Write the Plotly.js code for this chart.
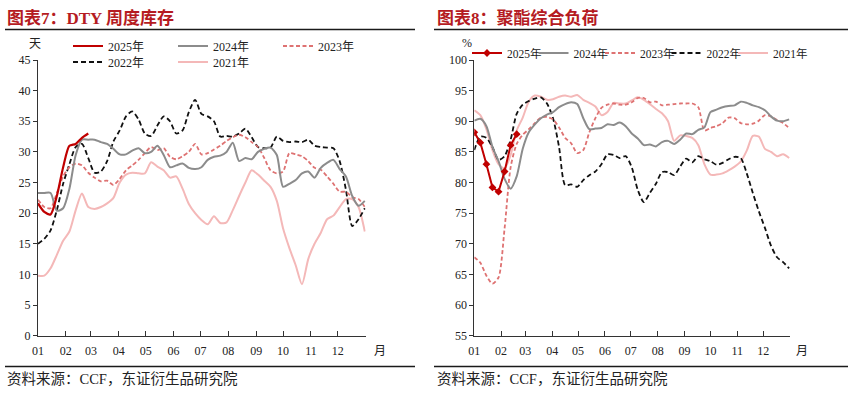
<!DOCTYPE html>
<html>
<head>
<meta charset="utf-8">
<script src="https://cdn.plot.ly/plotly-3.0.1.min.js"></script>
<style>
html,body{margin:0;padding:0;background:#fff;}
#chart{width:854px;height:396px;}
</style>
</head>
<body>
<div id="chart"></div>
<script>
// ---- shared x positions: day-of-year of each weekly observation ----
const weekDay = [0,7,14,21,28,35,42,49,56,63,70,77,84,91,98,105,112,119,126,133,140,147,154,161,168,175,182,189,196,203,210,217,224,231,238,245,252,259,266,273,280,287,294,301,308,315,322,329,336,343,350,357,364];
const monthStart = [0,31,59,90,120,151,181,212,243,273,304,334];
const monthLabels = ["01","02","03","04","05","06","07","08","09","10","11","12"];
const yearNames = ["2025年","2024年","2023年","2022年","2021年"];

// ---- 图表7: DTY 周度库存 (天) ----
const dty2025 = [21.6,20.2,19.8,22.8,27.5,31,31.3,32.3,33];
const dty2024 = [23.3,23.3,23.3,20.4,20.8,24,29.5,32,32,32,31.6,31.3,30.5,29.6,29.6,30.2,30.6,29.8,30,31,29.5,27.5,27.8,28.1,27.4,27.2,27.5,28.7,29.2,29.4,30,31.5,28.5,29,28.8,30,30.5,30.7,29.5,24.3,24.8,25.4,26.5,26.8,25.8,27.4,28.2,28.7,27.2,26,22.8,21.2,22];
const dty2023 = [22.2,21,20.8,23.3,26,27.5,28.1,27.8,26.6,25.8,25.2,25.3,24.6,25.6,27,27.8,28.7,29.8,30.8,30.3,30.6,29.2,28.8,29.3,30,31.3,29.6,29.8,30.4,31,31.8,32.4,32.8,32.4,31.6,30.8,29,27,26.5,26.8,29.8,29.6,29.3,28.5,27.4,27.1,26,24.8,23.5,23.5,22.6,22.3,21];
const dty2022 = [15,15.8,17.2,20.5,24.8,28,30.8,31.3,29,26.6,26.8,28.5,31.7,33.5,35.8,36.6,35.3,33,32.6,34.3,35.8,35,33,33.5,36.5,38.5,36.2,35.8,35,32.5,32.6,32.5,33,33.8,32.4,30.8,30.6,30.7,32.5,31.8,31.6,31.7,31.6,32,31,30.8,30.7,30.6,28.5,23.8,17.9,19,20.8];
const dty2021 = [9.8,9.8,11,13.2,15.5,17,20.5,23.2,21,20.7,21,21.6,22.5,25,26.3,26.6,26.5,26.5,28.3,27.6,27,25.8,26,24,21.5,20,18.9,18.2,19.5,18.4,18.5,20.5,22.8,25,27,26.3,25.3,24.3,22,17.5,14.3,11.5,8.4,12.5,15,16.8,19,19.6,21,22.3,22.3,21,17];

// ---- 图表8: 聚酯综合负荷 (%) ----
const load2025 = [88.2,86.5,83,79.2,78.5,81.8,86.1,87.9];
const load2024 = [90.1,90.4,89.2,85.8,83.5,80.6,79,81,85.5,88.2,89.5,90.5,91.1,91.5,92.3,92.8,93.1,92.8,90.5,88.7,88.8,88.9,89.5,89.4,89.8,89.2,88,87.2,86.1,86.2,85.9,86.6,86.8,86.3,87,88,87.9,88.6,89,91.5,91.9,92.3,92.5,92.6,93.2,93,92.6,92.3,91.8,90.8,90.1,90,90.3];
const load2023 = [67.8,66.9,64.8,63.5,64.5,72.5,82.5,86.3,87.8,88.7,89.7,90.6,90.7,90.3,89,87.3,86.4,84.8,85.3,88.2,90.5,92.2,92.7,92.9,92.7,92.7,93.1,93.8,93.8,93.1,93.2,92.6,92.7,92.8,92.9,92.9,92.9,92.3,88.5,88.9,89.2,89.7,90.6,90.5,89.7,89.5,89.6,90.1,91,90.8,90.2,89.7,88.9];
const load2022 = [85.3,87.5,87.3,85.8,83.7,84.3,87,91.2,92.7,93.3,93.7,93.9,92.9,90.5,85.8,79.6,79.7,79.3,80.4,81.2,81.8,83,84.6,84.5,84,84.3,82.5,78.8,76.8,78.3,79.8,81.7,81.7,81.2,82.6,83.9,83.3,84.3,83.8,83.5,82.9,83.2,83.8,84.2,84,81.5,78.3,75.3,72.6,69.7,67.8,67,66];
const load2021 = [91.8,91,88.7,85.3,83,82.3,84.5,88.5,90.6,93.2,94.2,94,93.5,93.6,94,94.2,94,94.3,93.5,93,92.4,91,91.5,93,92.9,92.9,93.4,93.9,93.5,92.8,92,91.3,90,86.8,87.7,87.6,87.3,86.1,83,81.3,81.3,81.5,82,82.6,83.4,85.2,87.6,87.5,85.5,85,84.3,84.6,84];

// ---- styles ----
const C25 = '#C00000', C24 = '#8C8C8C', C23 = '#DE7272', C22 = '#111111', C21 = '#F4B8B8';
const FONT = '"Liberation Serif", "Times New Roman", "Noto Sans CJK SC", serif';
const CJK = '"Liberation Serif", "Noto Sans CJK SC", serif';

function tr(vals, name, color, opts) {
  const t = {
    type: 'scatter', mode: 'lines',
    x: weekDay.slice(0, vals.length), y: vals, name: name,
    line: {color: color, width: opts.width || 2, dash: opts.dash || 'solid', shape: opts.shape || 'spline', smoothing: 0.7},
    xaxis: opts.xaxis, yaxis: opts.yaxis, legend: opts.legend, legendrank: opts.rank,
    hoverinfo: 'skip'
  };
  if (opts.legendwidth) t.legendwidth = opts.legendwidth;
  if (opts.marker) { t.mode = 'lines+markers'; t.marker = opts.marker; }
  return t;
}

const data = [
  // left chart
  tr(dty2021, yearNames[4], C21, {xaxis:'x', yaxis:'y', legend:'legend2', rank:2, width:2, legendwidth:45}),
  tr(dty2022, yearNames[3], C22, {xaxis:'x', yaxis:'y', legend:'legend2', rank:1, width:1.8, dash:'5px,3px'}),
  tr(dty2023, yearNames[2], C23, {xaxis:'x', yaxis:'y', legend:'legend', rank:3, width:1.8, dash:'4px,2.5px'}),
  tr(dty2024, yearNames[1], C24, {xaxis:'x', yaxis:'y', legend:'legend', rank:2, width:2}),
  tr(dty2025, yearNames[0], C25, {xaxis:'x', yaxis:'y', legend:'legend', rank:1, width:2.2}),
  // right chart
  tr(load2021, yearNames[4], C21, {xaxis:'x2', yaxis:'y2', legend:'legend3', rank:5, width:2, legendwidth:45}),
  tr(load2022, yearNames[3], C22, {xaxis:'x2', yaxis:'y2', legend:'legend3', rank:4, width:1.8, dash:'5px,3px'}),
  tr(load2023, yearNames[2], C23, {xaxis:'x2', yaxis:'y2', legend:'legend3', rank:3, width:1.8, dash:'4px,2.5px'}),
  tr(load2024, yearNames[1], C24, {xaxis:'x2', yaxis:'y2', legend:'legend3', rank:2, width:2}),
  tr(load2025, yearNames[0], C25, {xaxis:'x2', yaxis:'y2', legend:'legend3', rank:1, width:2, shape:'linear',
      marker:{symbol:'diamond', size:6, color:C25}})
];

const W = 854, H = 396;
const px = v => v / W;
const py = v => 1 - v / H;

function xAxis(domain, anchor) {
  return {domain: domain, anchor: anchor, range: [0, 365], tickmode: 'array', tickvals: monthStart, ticktext: monthLabels,
    ticks: 'inside', ticklen: 5, tickcolor: '#333', showline: true, linecolor: '#333', linewidth: 1,
    ticklabelstandoff: 4,
    showgrid: false, zeroline: false, tickfont: {family: FONT, size: 12, color: '#222'}, fixedrange: true};
}
function yAxis(domain, anchor, range) {
  return {domain: domain, anchor: anchor, range: range, dtick: 5, tick0: 0,
    ticks: 'outside', ticklen: 4, tickcolor: '#333', showline: true, linecolor: '#333', linewidth: 1,
    showgrid: false, zeroline: false, tickfont: {family: FONT, size: 12, color: '#222'}, fixedrange: true};
}

const yDom = [py(335.7), py(60)];
function legendAt(x, yCenter, ew, size) {
  return {orientation: 'h', x: px(x), y: py(yCenter - 14.5), xanchor: 'left', yanchor: 'top',
    bgcolor: 'rgba(0,0,0,0)', borderwidth: 0, entrywidth: ew, entrywidthmode: 'pixels',
    font: {family: CJK, size: size || 12, color: '#222'}, itemclick: false, itemdoubleclick: false};
}

function ann(text, x, y, opts) {
  return Object.assign({text: text, x: px(x), y: py(y), xref: 'paper', yref: 'paper', showarrow: false,
    xanchor: 'left', yanchor: 'middle', font: {family: CJK, size: 12, color: '#222'}}, opts || {});
}
function rule(x0, x1, y) {
  return {type: 'line', xref: 'paper', yref: 'paper', x0: px(x0), x1: px(x1), y0: py(y), y1: py(y),
    line: {color: '#1a1a1a', width: 1.3}};
}

const TITLE_FONT = {family: CJK, size: 17, color: '#B51B22', weight: 'bold'};
const SRC_FONT = {family: CJK, size: 14.5, color: '#222'};

const layout = {
  width: W, height: H, margin: {l: 0, r: 0, t: 0, b: 0},
  paper_bgcolor: '#fff', plot_bgcolor: '#fff', showlegend: true,
  font: {family: FONT, size: 12, color: '#222'},
  xaxis: xAxis([px(38), px(365.7)], 'y'),
  yaxis: yAxis(yDom, 'x', [0, 45]),
  xaxis2: xAxis([px(474.3), px(790)], 'y2'),
  yaxis2: yAxis(yDom, 'x2', [55, 100]),
  legend: legendAt(68, 46, 60),
  legend2: legendAt(68, 62, 60),
  legend3: legendAt(467, 53, 21.5, 11.5),
  annotations: [
    ann('图表7：DTY 周度库存', 5, 18, {font: TITLE_FONT}),
    ann('图表8：聚酯综合负荷', 435, 18, {font: TITLE_FONT}),
    ann('天', 35, 44, {xanchor: 'center'}),
    ann('%', 467, 43, {xanchor: 'center'}),
    ann('月', 380, 351, {xanchor: 'center'}),
    ann('月', 802, 351, {xanchor: 'center'}),
    ann('资料来源：CCF，东证衍生品研究院', 5, 379, {font: SRC_FONT}),
    ann('资料来源：CCF，东证衍生品研究院', 435, 379, {font: SRC_FONT})
  ],
  shapes: [rule(5, 415, 29.5), rule(434, 848, 29.5), rule(5, 415, 366.5), rule(434, 848, 366.5)]
};

Plotly.newPlot('chart', data, layout, {staticPlot: true, displayModeBar: false});
</script>
</body>
</html>
